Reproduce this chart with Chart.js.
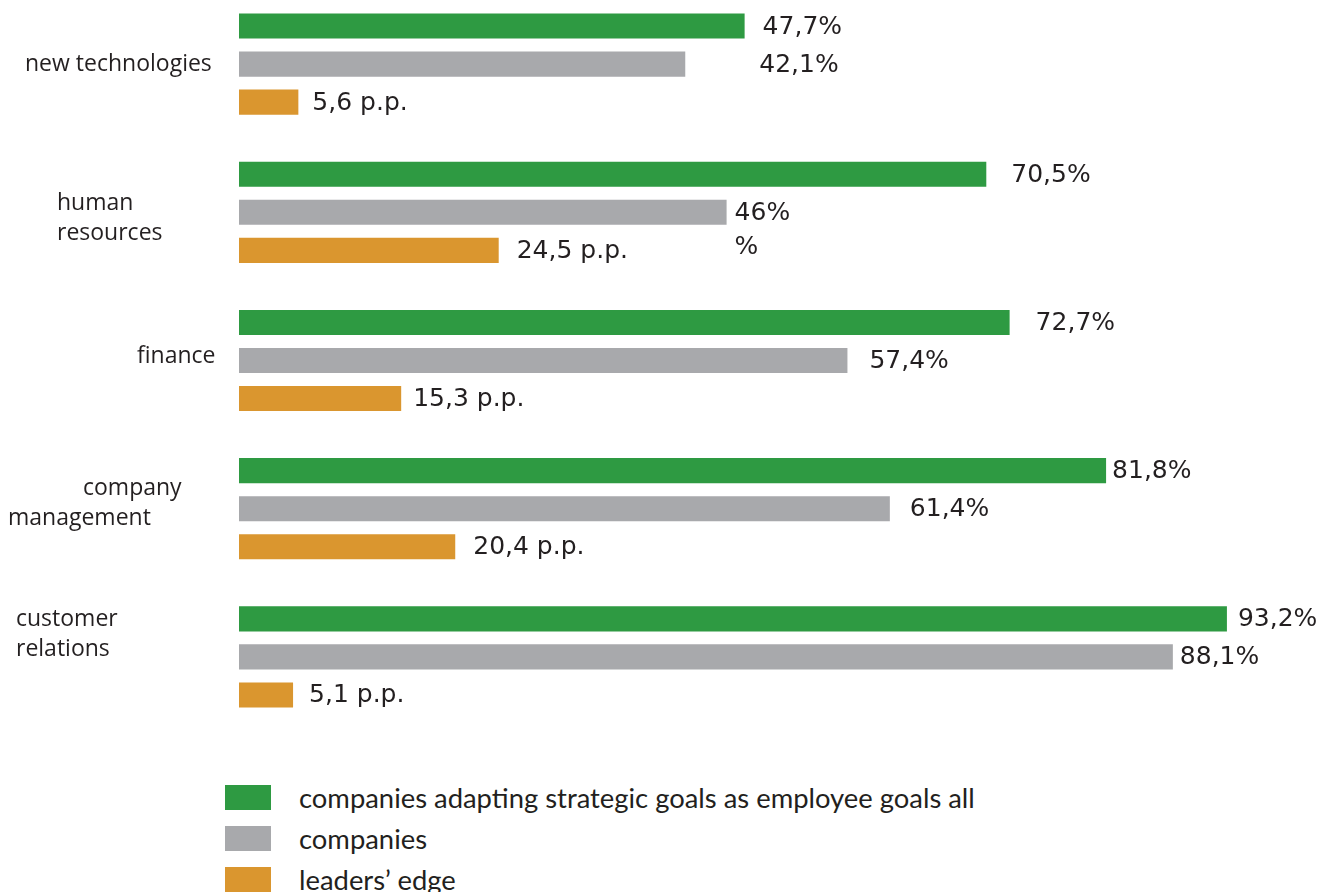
<!DOCTYPE html>
<html>
<head>
<meta charset="utf-8">
<script src="https://cdn.jsdelivr.net/npm/chart.js@4.4.1/dist/chart.umd.min.js"></script>
<style>
    html, body { margin: 0; padding: 0; background: #ffffff; }
    body { width: 1334px; height: 892px; position: relative; overflow: hidden; }
    #chartBox { position: absolute; left: 0; top: -20px; width: 1334px; height: 780px; }
    #legend { position: absolute; left: 225px; top: 777px; font-family: Lato, "Open Sans", sans-serif; font-size: 27.4px; color: #231f20; }
    .legend-row { height: 41px; display: flex; align-items: center; }
    .legend-box { width: 46px; height: 25px; margin-right: 28px; }
</style>
</head>
<body>
<div id="chartBox"><canvas id="goalsChart"></canvas></div>
<div id="legend"></div>
<script>
// Areas where strategic goals are carried into employee goals
const categories = ['new technologies', 'human resources', 'finance', 'company management', 'customer relations'];

// Series values (percent / percentage points)
const adaptingValues = [47.7, 70.5, 72.7, 81.8, 93.2];
const allCompaniesValues = [42.1, 46, 57.4, 61.4, 88.1];
const leadersEdgeValues = [5.6, 24.5, 15.3, 20.4, 5.1];

const seriesNames = ['companies adapting strategic goals as employee goals all', 'companies', 'leaders\u2019 edge'];
const seriesUnits = ['%', '%', ' p.p.'];
const seriesColors = ['#2e9a42', '#a8a9ac', '#da962f'];

// How each category name is broken and placed left of the bars
const categoryLines = [['new technologies'], ['human', 'resources'], ['finance'], ['company', 'management'], ['customer', 'relations']];
const categoryLineX = [[25], [57, 57], [137], [83, 8], [16, 16]];
const categoryShiftY = [0, 6, -4, -5, -22];

// Space between bar end and its value label, per series and category
const valueGaps = [
    [18, 25, 26, 6, 11],
    [74, 8, 22, 20, 7],
    [14, 18, 12, 18, 16]
];

const TEXT_COLOR = '#231f20';

function formatValue(v, unit) {
    return String(v).replace('.', ',') + unit;
}

// Draws the category names and the value labels next to every bar
const labelPlugin = {
    id: 'goalLabels',
    afterDatasetsDraw(chart) {
        const ctx = chart.ctx;
        const yScale = chart.scales.y;
        ctx.save();
        ctx.fillStyle = TEXT_COLOR;
        ctx.textBaseline = 'middle';
        ctx.textAlign = 'left';

        ctx.font = '23px "Open Sans", sans-serif';
        categories.forEach((cat, i) => {
            const lines = categoryLines[i];
            const mid = yScale.getPixelForValue(i) + categoryShiftY[i];
            const lineH = 30;
            lines.forEach((line, j) => {
                const y = mid + (j - (lines.length - 1) / 2) * lineH;
                ctx.fillText(line, categoryLineX[i][j], y);
            });
        });

        ctx.font = '25px "DejaVu Sans", sans-serif';
        chart.data.datasets.forEach((ds, d) => {
            const meta = chart.getDatasetMeta(d);
            meta.data.forEach((bar, i) => {
                const text = formatValue(ds.data[i], seriesUnits[d]);
                ctx.fillText(text, bar.x + valueGaps[d][i], bar.y + 1);
                // the "46%" label carries a stray second "%" line
                if (d === 1 && i === 1) {
                    ctx.fillText('%', bar.x + valueGaps[d][i], bar.y + 35);
                }
            });
        });
        ctx.restore();
    }
};

function buildLegend() {
    const legend = document.getElementById('legend');
    seriesNames.forEach((name, i) => {
        const row = document.createElement('div');
        row.className = 'legend-row';
        const box = document.createElement('div');
        box.className = 'legend-box';
        box.style.background = seriesColors[i];
        const label = document.createElement('span');
        label.textContent = name;
        row.appendChild(box);
        row.appendChild(label);
        legend.appendChild(row);
    });
}

const seriesValues = [adaptingValues, allCompaniesValues, leadersEdgeValues];

new Chart(document.getElementById('goalsChart'), {
    type: 'bar',
    data: {
        labels: categories,
        datasets: seriesValues.map((values, i) => ({
            label: seriesNames[i],
            data: values,
            backgroundColor: seriesColors[i],
            borderWidth: 0,
            categoryPercentage: 0.77,
            barPercentage: 0.66
        }))
    },
    options: {
        indexAxis: 'y',
        responsive: true,
        maintainAspectRatio: false,
        animation: false,
        layout: {
            padding: { left: 239, right: 35, top: 10, bottom: 29 }
        },
        scales: {
            x: { min: 0, max: 100, display: false },
            y: { display: false }
        },
        plugins: {
            legend: { display: false },
            tooltip: { enabled: false }
        }
    },
    plugins: [labelPlugin]
});

buildLegend();
</script>
</body>
</html>
